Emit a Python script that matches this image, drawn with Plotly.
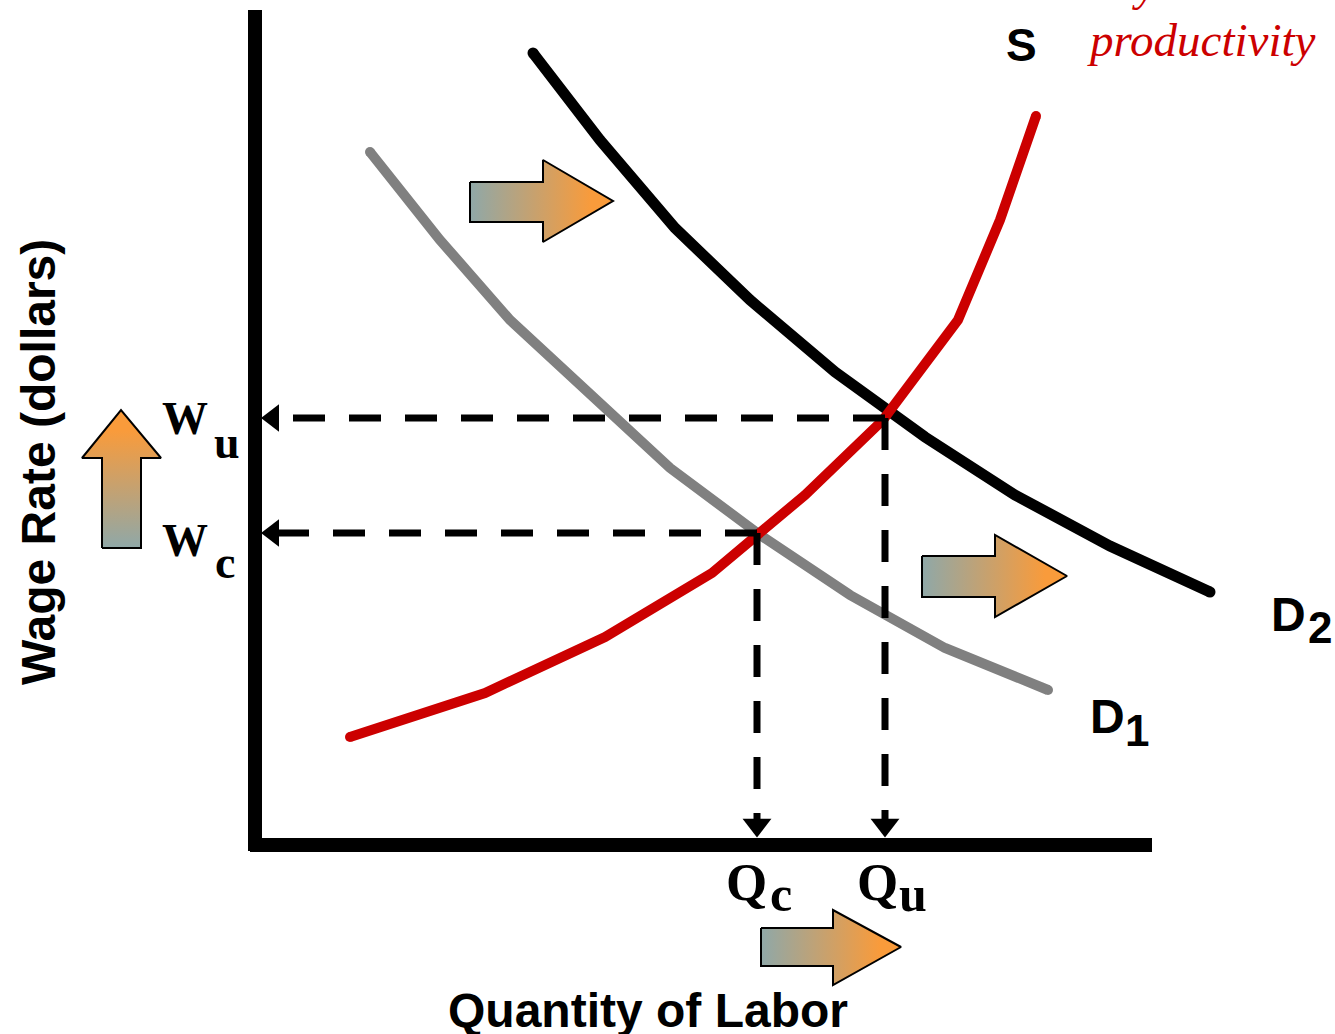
import plotly.graph_objects as go

# ---------------- data (quantity units, wage units) ----------------
d2_q = [278, 345, 420, 495, 580, 670, 760, 855, 955]
d2_w = [792, 705, 617, 545, 473, 408, 350, 299, 253]

d1_q = [115, 185, 255, 340, 415, 505, 595, 690, 793]
d1_w = [693, 605, 525, 445, 377, 310, 250, 197, 155]

s_q = [95, 230, 350, 457, 550, 628, 703, 745, 781]
s_w = [108, 152, 208, 272, 350, 425, 525, 625, 729]

eq_labels = ["c", "u"]
eq_q = [502, 630]
eq_w = [312, 427]

axis_max_q = 897
axis_max_w = 835

# shift arrows (polygons)
arrow_right_1_q = [215, 288, 288, 358, 288, 288, 215, 215]
arrow_right_1_w = [663, 663, 685, 644, 603, 623, 623, 663]
arrow_right_2_q = [667, 740, 740, 812, 740, 740, 667, 667]
arrow_right_2_w = [289, 289, 310, 269, 228, 248, 248, 289]
arrow_right_3_q = [506, 578, 578, 646, 578, 578, 506, 506]
arrow_right_3_w = [-83, -83, -65, -102, -140, -121, -121, -83]
arrow_up_q = [-153, -153, -173, -134, -94, -114, -114, -153]
arrow_up_w = [297, 387, 387, 435, 387, 387, 297, 297]

X_RANGE = [-255, 1080]
Y_RANGE = [-189, 845]

GRAY = "#8fa8a8"
ORANGE = "#f99b3b"
SANS = "Liberation Sans, Arial, sans-serif"
SERIF = "Liberation Serif, Times New Roman, serif"

fig = go.Figure()

# arrows with gradient fill
for aq, aw in [(arrow_right_1_q, arrow_right_1_w), (arrow_right_2_q, arrow_right_2_w),
               (arrow_right_3_q, arrow_right_3_w)]:
    fig.add_trace(go.Scatter(x=aq, y=aw, mode="lines", fill="toself",
                             line=dict(color="black", width=2),
                             fillgradient=dict(type="horizontal",
                                               colorscale=[[0, GRAY], [0.85, ORANGE], [1, ORANGE]],
                                               start=min(aq), stop=max(aq)),
                             hoverinfo="skip", showlegend=False))
fig.add_trace(go.Scatter(x=arrow_up_q, y=arrow_up_w, mode="lines", fill="toself",
                         line=dict(color="black", width=2),
                         fillgradient=dict(type="vertical",
                                           colorscale=[[0, GRAY], [0.85, ORANGE], [1, ORANGE]],
                                           start=min(arrow_up_w), stop=max(arrow_up_w)),
                         hoverinfo="skip", showlegend=False))

# curves
for q, w, col, wd in [(d1_q, d1_w, "#808080", 10), (d2_q, d2_w, "black", 11),
                      (s_q, s_w, "#cc0000", 10)]:
    fig.add_trace(go.Scatter(x=q, y=w, mode="lines", line=dict(color=col, width=wd),
                             hoverinfo="skip", showlegend=False))
    fig.add_trace(go.Scatter(x=[q[0], q[-1]], y=[w[0], w[-1]], mode="markers",
                             marker=dict(color=col, size=wd, line=dict(width=0)),
                             hoverinfo="skip", showlegend=False))

# dashed guide lines
for q, w in zip(eq_q, eq_w):
    fig.add_trace(go.Scatter(x=[q, 18], y=[w, w], mode="lines",
                             line=dict(color="black", width=7, dash="32px,24px"),
                             hoverinfo="skip", showlegend=False))
    fig.add_trace(go.Scatter(x=[q, q], y=[w, 20], mode="lines",
                             line=dict(color="black", width=7, dash="32px,24px"),
                             hoverinfo="skip", showlegend=False))
fig.add_trace(go.Scatter(x=[18] * len(eq_w), y=eq_w, mode="markers",
                         marker=dict(symbol="triangle-left", size=24, color="black"),
                         hoverinfo="skip", showlegend=False))
fig.add_trace(go.Scatter(x=eq_q, y=[20] * len(eq_q), mode="markers",
                         marker=dict(symbol="triangle-down", size=25, color="black"),
                         hoverinfo="skip", showlegend=False))

# axes lines
fig.add_shape(type="line", x0=0, y0=-6, x1=0, y1=axis_max_w, line=dict(color="black", width=14))
fig.add_shape(type="line", x0=-5, y0=0, x1=axis_max_q, y1=0, line=dict(color="black", width=14))

ann = []
def txt(x, y, t, size, font=SANS, color="black", angle=0, xanchor="center"):
    # positions given in data units, converted to paper so they are never hidden
    px = (x - X_RANGE[0]) / (X_RANGE[1] - X_RANGE[0])
    py = (y - Y_RANGE[0]) / (Y_RANGE[1] - Y_RANGE[0])
    ann.append(dict(x=px, y=py, xref="paper", yref="paper", text=t, showarrow=False,
                    font=dict(family=font, size=size, color=color), textangle=angle,
                    xanchor=xanchor, yanchor="middle"))

txt(-217, 383, "<b>Wage Rate (dollars)</b>", 48, angle=-90)
txt(393, -165, "<b>Quantity of Labor</b>", 48)
txt(766, 800, "<b>S</b>", 46)
txt(1033, 231, "<b>D</b>", 48)
txt(1065, 218, "<b>2</b>", 44)
txt(852, 129, "<b>D</b>", 48)
txt(882, 115, "<b>1</b>", 44)
txt(946, 805, "<i>productivity</i>", 47, font=SERIF, color="#cc0000")
txt(880, 861, "<i>by</i>", 46, font=SERIF, color="#cc0000")
# W labels
txt(-70, 427, "<b>W</b>", 46, font=SERIF)
txt(-28, 403, "<b>%s</b>" % eq_labels[1], 46, font=SERIF)
txt(-70, 305, "<b>W</b>", 46, font=SERIF)
txt(-30, 283, "<b>%s</b>" % eq_labels[0], 46, font=SERIF)
# Q labels
txt(eq_q[0] - 10, -37, "<b>Q</b>", 53, font=SERIF)
txt(eq_q[0] + 24, -49, "<b>%s</b>" % eq_labels[0], 50, font=SERIF)
txt(eq_q[1] - 8, -37, "<b>Q</b>", 53, font=SERIF)
txt(eq_q[1] + 28, -49, "<b>%s</b>" % eq_labels[1], 50, font=SERIF)

fig.update_layout(
    width=1335, height=1034, margin=dict(l=0, r=0, t=0, b=0),
    paper_bgcolor="white", plot_bgcolor="white",
    xaxis=dict(range=X_RANGE, visible=False),
    yaxis=dict(range=Y_RANGE, visible=False),
    annotations=ann, showlegend=False,
)
fig.write_html("out.html", config={"displayModeBar": False},
               post_script="document.body.style.margin='0';document.body.style.overflow='hidden';")
